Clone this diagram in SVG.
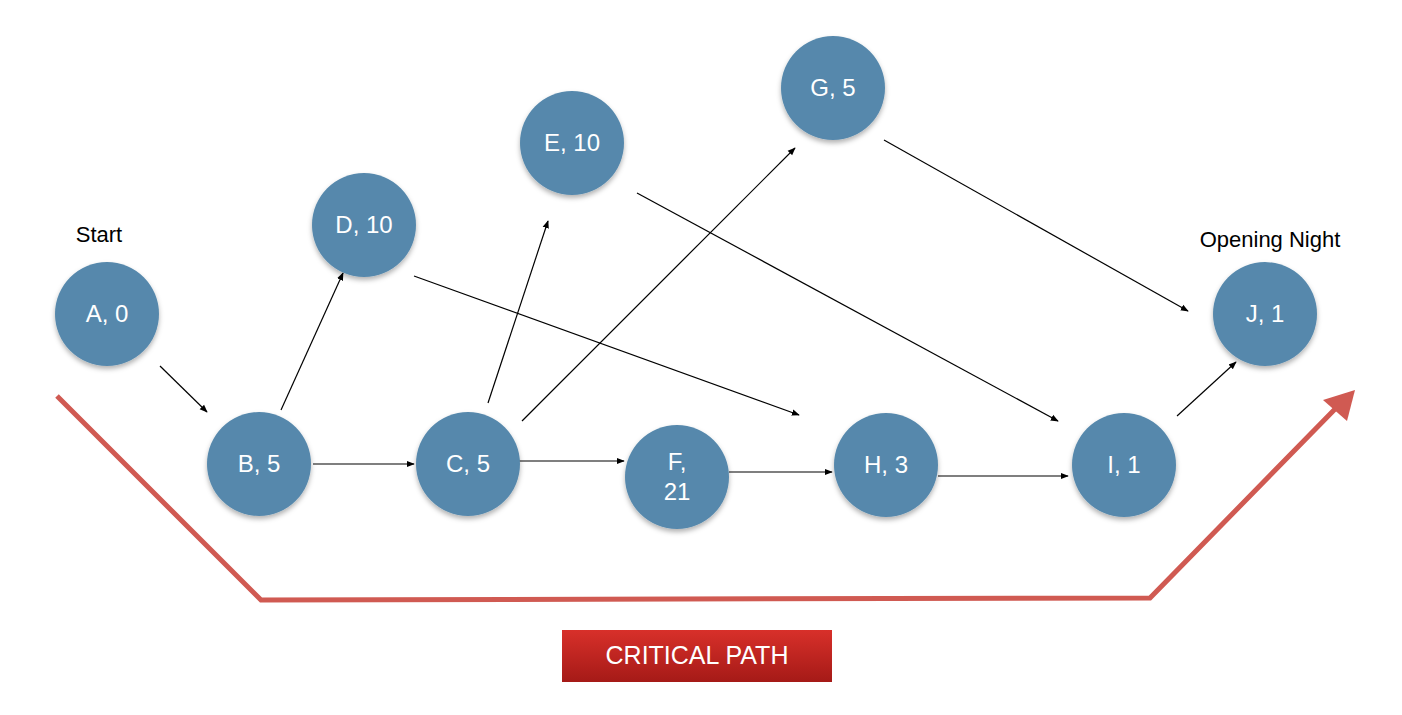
<svg xmlns="http://www.w3.org/2000/svg" width="1402" height="715" viewBox="0 0 1402 715">
<defs>
<style>
.node{fill:#5688ac;filter:url(#sh);}
.nt{font-family:"Liberation Sans",Arial,sans-serif;font-size:24px;fill:#ffffff;text-anchor:middle;}
.lbl{font-family:"Liberation Sans",Arial,sans-serif;font-size:22px;fill:#000000;text-anchor:middle;}
.edge{stroke:#000;stroke-width:1.2;fill:none;marker-end:url(#ah);}
.crit{stroke:#d05a52;stroke-width:5;fill:none;stroke-linejoin:miter;}
</style>
<marker id="ah" viewBox="0 0 10 10" refX="9" refY="5" markerWidth="8" markerHeight="8" markerUnits="userSpaceOnUse" orient="auto">
<path d="M0,1 L10,5 L0,9 z" fill="#000"/>
</marker>
<filter id="sh" x="-20%" y="-20%" width="140%" height="150%">
<feDropShadow dx="0" dy="3" stdDeviation="2.5" flood-color="#000" flood-opacity="0.3"/>
</filter>
<linearGradient id="rg" x1="0" y1="0" x2="0" y2="1">
<stop offset="0" stop-color="#d8302a"/>
<stop offset="1" stop-color="#a51a17"/>
</linearGradient>
</defs>
<rect width="1402" height="715" fill="#ffffff"/>
<g id="connectors">
<line class="edge" x1="160" y1="366" x2="207" y2="412"/>
<line class="edge" x1="281" y1="410" x2="343" y2="273"/>
<line class="edge" x1="313" y1="464" x2="414" y2="464"/>
<line class="edge" x1="488" y1="403" x2="548" y2="221"/>
<line class="edge" x1="522" y1="421" x2="795" y2="148"/>
<line class="edge" x1="519" y1="461" x2="624" y2="461"/>
<line class="edge" x1="414" y1="276" x2="799" y2="415"/>
<line class="edge" x1="637" y1="193" x2="1058" y2="421"/>
<line class="edge" x1="884" y1="140" x2="1188" y2="311"/>
<line class="edge" x1="729" y1="472" x2="832" y2="472"/>
<line class="edge" x1="938" y1="476" x2="1068" y2="476"/>
<line class="edge" x1="1177" y1="416" x2="1236" y2="362"/>
</g>
<g id="critical-path">
<polyline class="crit" points="57,396 261,600 1150,598 1338,406"/>
<path d="M1355,390 L1347,421 L1323,400 z" fill="#d05a52"/>
</g>
<g id="A"><circle class="node" cx="107" cy="314" r="52"/><text class="nt" x="107" y="322">A, 0</text></g>
<g id="B"><circle class="node" cx="259" cy="464" r="52"/><text class="nt" x="259" y="472">B, 5</text></g>
<g id="C"><circle class="node" cx="468" cy="464" r="52"/><text class="nt" x="468" y="472">C, 5</text></g>
<g id="D"><circle class="node" cx="364" cy="225" r="52"/><text class="nt" x="364" y="233">D, 10</text></g>
<g id="E"><circle class="node" cx="572" cy="143" r="52"/><text class="nt" x="572" y="151">E, 10</text></g>
<g id="F"><circle class="node" cx="677" cy="477" r="52"/><text class="nt" x="677" y="470">F,</text><text class="nt" x="677" y="500">21</text></g>
<g id="G"><circle class="node" cx="833" cy="88" r="52"/><text class="nt" x="833" y="96">G, 5</text></g>
<g id="H"><circle class="node" cx="886" cy="465" r="52"/><text class="nt" x="886" y="473">H, 3</text></g>
<g id="I"><circle class="node" cx="1124" cy="465" r="52"/><text class="nt" x="1124" y="473">I, 1</text></g>
<g id="J"><circle class="node" cx="1265" cy="314" r="52"/><text class="nt" x="1265" y="322">J, 1</text></g>
<g id="labels">
<text class="lbl" x="99" y="242">Start</text>
<text class="lbl" x="1270" y="247">Opening Night</text>
</g>
<g id="legend">
<rect x="562" y="630" width="270" height="52" fill="url(#rg)"/>
<text x="697" y="664" font-family="'Liberation Sans',Arial,sans-serif" font-size="25" fill="#ffffff" text-anchor="middle">CRITICAL PATH</text>
</g>
</svg>
